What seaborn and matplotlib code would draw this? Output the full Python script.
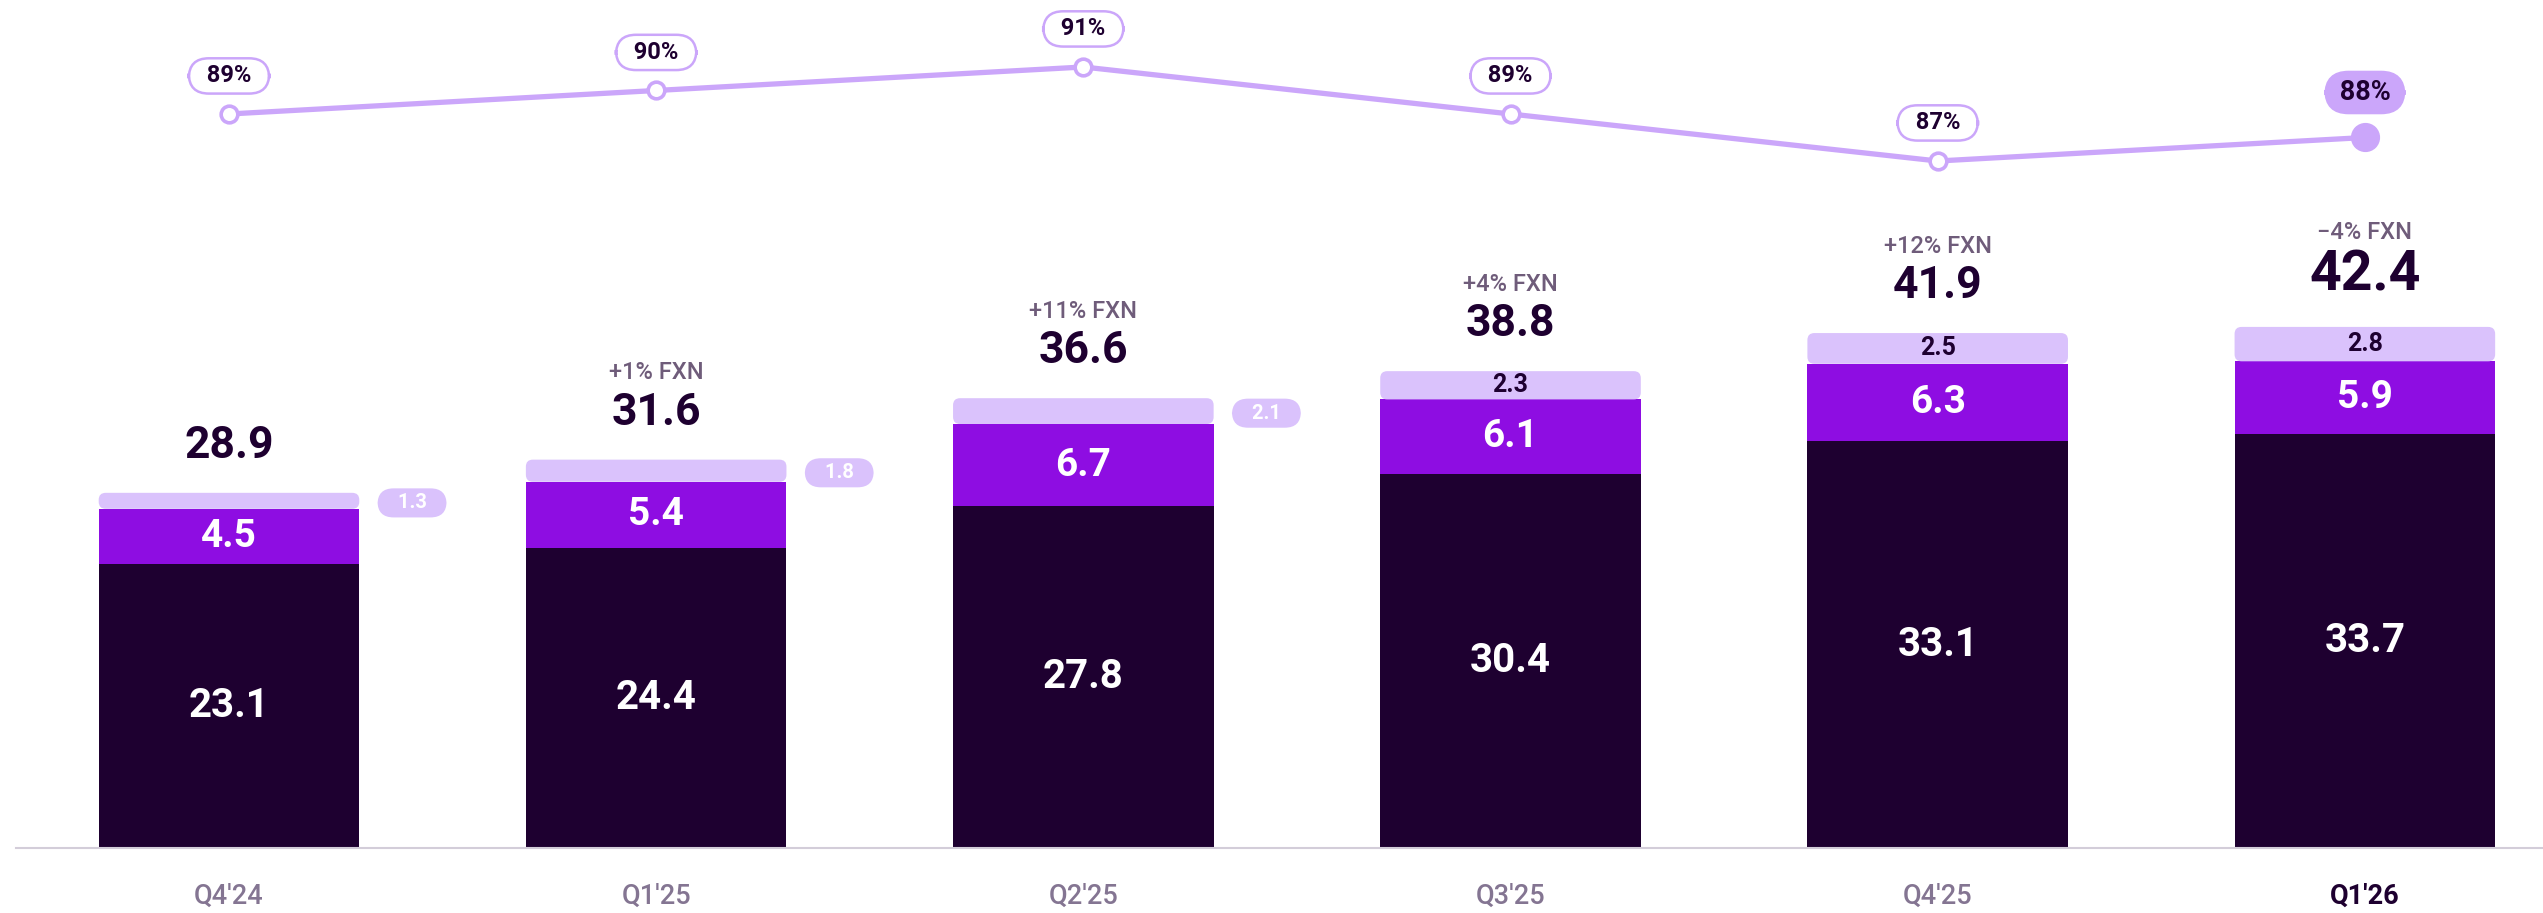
import matplotlib.pyplot as plt
import seaborn as sns
import numpy as np
import pandas as pd
from matplotlib.patches import FancyBboxPatch

# 数据
quarters = ["Q4'24", "Q1'25", "Q2'25", "Q3'25", "Q4'25", "Q1'26"]
core = [23.1, 24.4, 27.8, 30.4, 33.1, 33.7]
middle = [4.5, 5.4, 6.7, 6.1, 6.3, 5.9]
upper = [1.3, 1.8, 2.1, 2.3, 2.5, 2.8]
totals = [28.9, 31.6, 36.6, 38.8, 41.9, 42.4]
growth = ["", "+1% FXN", "+11% FXN", "+4% FXN", "+12% FXN", "\u22124% FXN"]
share = [89, 90, 91, 89, 87, 88]

# 颜色
DARK = "#1E0030"
PURPLE = "#8E0DE2"
LIGHT = "#DAC2FC"
LINE = "#CBA6FA"
GREY = "#847592"
FXN = "#6F5C7A"

sns.set_style("white")
plt.rcParams['font.family'] = ['Roboto', 'DejaVu Sans']

W, H = 2543, 913
fig = plt.figure(figsize=(W / 100, H / 100), dpi=100)
ax = fig.add_axes([16 / W, 65 / H, 1 - 16 / W, 848 / H])

df = pd.DataFrame({'q': quarters, 'core': core,
                   'cm': np.array(core) + np.array(middle)})

# 堆叠柱：先画 core+middle，再画 core 盖在上面
sns.barplot(data=df, x='q', y='cm', color=PURPLE, saturation=1, width=0.61,
            linewidth=0, ax=ax)
sns.barplot(data=df, x='q', y='core', color=DARK, saturation=1, width=0.61,
            linewidth=0, ax=ax)

ax.set_xlim(-0.4986, 5.417)
ax.set_ylim(0, 69.0)
ax.set_xlabel('')
ax.set_ylabel('')
ax.set_yticks([])
for s in ['top', 'left', 'right']:
    ax.spines[s].set_visible(False)
ax.spines['bottom'].set_color('#D3CDD9')
ax.spines['bottom'].set_linewidth(1.5)

# 顶部浅色段用圆角矩形
p0 = ax.transData.transform((0, 0))
p1 = ax.transData.transform((1, 1))
px_x, px_y = p1[0] - p0[0], p1[1] - p0[1]
aspect = px_x / px_y
r = 7 / px_x
mid_bars = ax.patches[:len(quarters)]
for i, bar in enumerate(mid_bars):
    lo = core[i] + middle[i]
    box = FancyBboxPatch((bar.get_x(), lo), bar.get_width(), upper[i],
                         boxstyle=f"round,pad=0,rounding_size={r}",
                         mutation_aspect=aspect, fc=LIGHT, ec='none', zorder=2)
    ax.add_patch(box)

# 柱内标签
for i in range(len(quarters)):
    ax.text(i, core[i] / 2, f"{core[i]}", ha='center', va='center',
            color='white', fontsize=29, fontweight='bold')
    ax.text(i, core[i] + middle[i] / 2, f"{middle[i]}", ha='center',
            va='center', color='white', fontsize=28, fontweight='bold')
    ymid = core[i] + middle[i] + upper[i] / 2
    if upper[i] >= 2.2:
        ax.text(i, ymid, f"{upper[i]}", ha='center', va='center',
                color=DARK, fontsize=18, fontweight='bold', zorder=3)
    else:
        bar = mid_bars[i]
        ax.annotate(f"   {upper[i]}   ", xy=(bar.get_x() + bar.get_width(), ymid),
                    xytext=(38, -1.5), textcoords='offset points',
                    ha='center', va='center', color='white', fontsize=14.5,
                    fontweight='bold',
                    bbox=dict(boxstyle='round,pad=0.25,rounding_size=0.8',
                              fc=LIGHT, ec='none'))
    last = i == len(quarters) - 1
    ax.annotate(f"{totals[i]}", xy=(i, totals[i]),
                xytext=(0, 36.7 if last else 33.8), textcoords='offset points',
                ha='center', va='center', color=DARK,
                fontsize=40 if last else 32, fontweight='bold')
    if growth[i]:
        ax.annotate(growth[i], xy=(i, totals[i]),
                    xytext=(0, 67.7 if last else 62.6), textcoords='offset points',
                    ha='center', va='center', color=FXN, fontsize=17,
                    fontweight='medium')

# 横轴标签
ax.set_xticks(range(len(quarters)))
ax.set_xticklabels(quarters, fontsize=19.5, color=GREY, fontweight='medium')
ax.tick_params(axis='x', length=0, pad=25)
lab = ax.get_xticklabels()[-1]
lab.set_color(DARK)
lab.set_fontweight('bold')

# 折线（占比）
ax2 = ax.twinx()
xpos = np.arange(len(quarters))
sns.lineplot(x=xpos, y=share, ax=ax2, color=LINE, lw=3.8, marker='o',
             markersize=12, markerfacecolor='white', markeredgecolor=LINE,
             markeredgewidth=2.6)
ax2.plot(xpos[-1], share[-1], 'o', color=LINE, markersize=20)
ax2.set_ylim(57.77, 93.85)
ax2.set_yticks([])
ax2.set_ylabel('')
for s in ax2.spines.values():
    s.set_visible(False)

for i in range(len(quarters)):
    last = i == len(quarters) - 1
    ax2.annotate(f"  {share[i]}%  " if not last else f" {share[i]}% ",
                 xy=(xpos[i], share[i]),
                 xytext=(0, 32.4 if last else 27.4), textcoords='offset points',
                 ha='center', va='center', color=DARK,
                 fontsize=19.5 if last else 17, fontweight='bold',
                 bbox=dict(boxstyle='round,pad=0.26,rounding_size=0.85',
                           fc=LINE if last else 'white', ec=LINE, lw=1.8))

fig.savefig('out.png', dpi=100)
